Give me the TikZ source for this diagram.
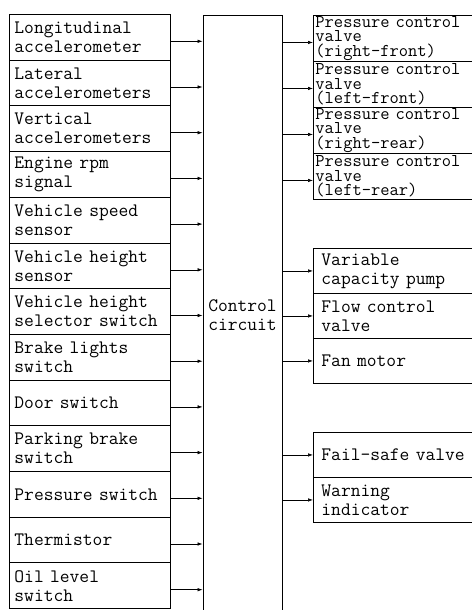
\documentclass[tikz,border=0pt]{standalone}
\usetikzlibrary{arrows.meta}
\begin{document}
\begin{tikzpicture}[x=1pt,y=-1pt,
  every node/.style={font=\ttfamily\fontsize{19}{19}\selectfont},
  inbox/.style={draw,line width=0.9pt,anchor=north west,minimum width=161pt,minimum height=45.7pt,
    inner xsep=5pt,inner ysep=1pt,text width=151pt,align=left},
  valvebox/.style={draw,line width=0.9pt,anchor=north west,minimum width=177pt,minimum height=46pt,
    inner xsep=2pt,inner ysep=0pt,text width=173pt,align=left,
    font=\ttfamily\fontsize{18}{14.5}\selectfont},
  outbox/.style={draw,line width=0.9pt,anchor=north west,minimum width=177pt,minimum height=45pt,
    inner xsep=8pt,inner ysep=1pt,text width=161pt,align=left},
  arr/.style={-{Latex[length=5pt,width=3.5pt]},line width=0.6pt}]
\path[use as bounding box] (0,0) rectangle (471,610);

% sensors
\node[inbox] (1s) at (9,14) {Longitudinal\\accelerometer};
\node[inbox] (2s) at (9,59.7) {Lateral\\accelerometers};
\node[inbox] (3s) at (9,105.4) {Vertical\\accelerometers};
\node[inbox] (4s) at (9,151.1) {Engine rpm\\signal};
\node[inbox] (5s) at (9,196.8) {Vehicle speed\\sensor};
\node[inbox] (6s) at (9,242.5) {Vehicle height\\sensor};
\node[inbox] (7s) at (9,288.2) {Vehicle height\\selector switch};
\node[inbox] (8s) at (9,333.9) {Brake lights\\switch};
\node[inbox] (9s) at (9,379.6) {Door switch};
\node[inbox] (10s) at (9,425.3) {Parking brake\\switch};
\node[inbox] (11s) at (9,471) {Pressure switch};
\node[inbox] (12s) at (9,516.7) {Thermistor};
\node[inbox] (13s) at (9,562.4) {Oil level\\switch};

% control circuit
\node[draw,line width=0.9pt,minimum width=79pt,minimum height=600pt,inner sep=0pt,align=left] (ctrl) at (242.5,315) {Control\\circuit};

% actuators
\node[valvebox] (1o) at (313,15) {Pressure control\\valve\\(right-front)};
\node[valvebox] (2o) at (313,61) {Pressure control\\valve\\(left-front)};
\node[valvebox] (3o) at (313,107) {Pressure control\\valve\\(right-rear)};
\node[valvebox] (4o) at (313,153) {Pressure control\\valve\\(left-rear)};
\node[outbox] (5o) at (313,248) {Variable\\capacity pump};
\node[outbox] (6o) at (313,293) {Flow control\\valve};
\node[outbox] (7o) at (313,338) {Fan motor};
\node[outbox] (8o) at (313,432) {Fail-safe valve};
\node[outbox] (9o) at (313,477) {Warning\\indicator};

\draw[arr] ([yshift=-4pt]1s.east) -- ([yshift=-4pt]1s.east -| ctrl.west);
\draw[arr] ([yshift=-4pt]2s.east) -- ([yshift=-4pt]2s.east -| ctrl.west);
\draw[arr] ([yshift=-4pt]3s.east) -- ([yshift=-4pt]3s.east -| ctrl.west);
\draw[arr] ([yshift=-4pt]4s.east) -- ([yshift=-4pt]4s.east -| ctrl.west);
\draw[arr] ([yshift=-4pt]5s.east) -- ([yshift=-4pt]5s.east -| ctrl.west);
\draw[arr] ([yshift=-4pt]6s.east) -- ([yshift=-4pt]6s.east -| ctrl.west);
\draw[arr] ([yshift=-4pt]7s.east) -- ([yshift=-4pt]7s.east -| ctrl.west);
\draw[arr] ([yshift=-4pt]8s.east) -- ([yshift=-4pt]8s.east -| ctrl.west);
\draw[arr] ([yshift=-4pt]9s.east) -- ([yshift=-4pt]9s.east -| ctrl.west);
\draw[arr] ([yshift=-4pt]10s.east) -- ([yshift=-4pt]10s.east -| ctrl.west);
\draw[arr] ([yshift=-4pt]11s.east) -- ([yshift=-4pt]11s.east -| ctrl.west);
\draw[arr] ([yshift=-4pt]12s.east) -- ([yshift=-4pt]12s.east -| ctrl.west);
\draw[arr] ([yshift=-4pt]13s.east) -- ([yshift=-4pt]13s.east -| ctrl.west);

\draw[arr] ([yshift=-4pt]1o.west -| ctrl.east) -- ([yshift=-4pt]1o.west);
\draw[arr] ([yshift=-4pt]2o.west -| ctrl.east) -- ([yshift=-4pt]2o.west);
\draw[arr] ([yshift=-4pt]3o.west -| ctrl.east) -- ([yshift=-4pt]3o.west);
\draw[arr] ([yshift=-4pt]4o.west -| ctrl.east) -- ([yshift=-4pt]4o.west);
\draw[arr] (5o.west -| ctrl.east) -- (5o.west);
\draw[arr] (6o.west -| ctrl.east) -- (6o.west);
\draw[arr] (7o.west -| ctrl.east) -- (7o.west);
\draw[arr] (8o.west -| ctrl.east) -- (8o.west);
\draw[arr] (9o.west -| ctrl.east) -- (9o.west);
\end{tikzpicture}
\end{document}
